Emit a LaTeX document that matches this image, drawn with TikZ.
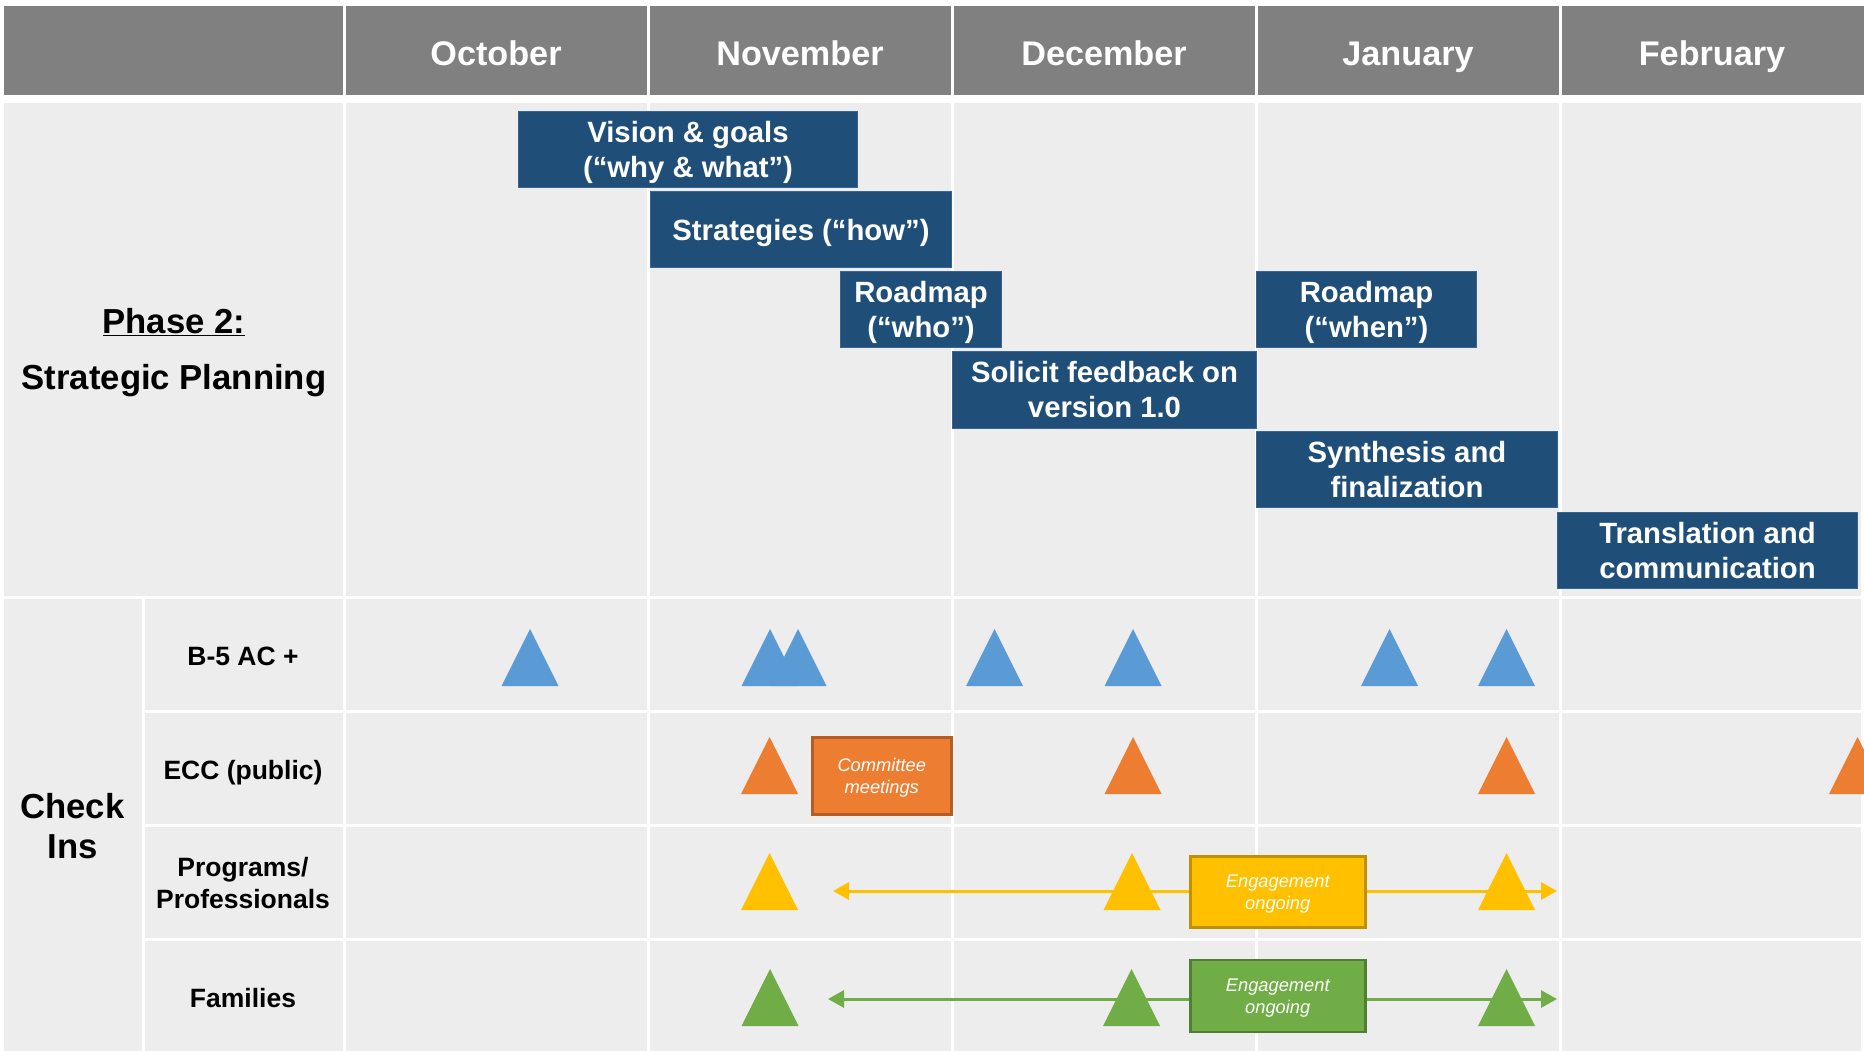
\documentclass[tikz,border=0pt]{standalone}
\usepackage{fontspec}
\setmainfont{Liberation Sans}
\usetikzlibrary{arrows.meta}
\definecolor{hdr}{HTML}{808080}
\definecolor{cell}{HTML}{EDEDED}
\definecolor{navy}{HTML}{1F4E79}
\definecolor{navyline}{HTML}{3A6590}
\definecolor{tblue}{HTML}{5B9BD5}
\definecolor{torange}{HTML}{ED7D31}
\definecolor{torangeline}{HTML}{B45C24}
\definecolor{tyellow}{HTML}{FFC000}
\definecolor{tyellowline}{HTML}{BF9000}
\definecolor{tgreen}{HTML}{70AD47}
\definecolor{tgreenline}{HTML}{507E32}
\newcommand{\mytri}[3]{\fill[#1] ({#2-28.5},{#3+57}) -- (#2,#3) -- ({#2+28.5},{#3+57}) -- cycle;}
\newcommand{\nodp}[1]{\raisebox{0pt}[\height][0pt]{#1}}
\begin{document}
\begin{tikzpicture}[x=1pt,y=-1pt,
  month/.style={text=white,font=\fontsize{34.2}{40}\selectfont\bfseries,anchor=base,inner sep=0pt},
  task/.style={fill=navy,draw=navyline,line width=1pt,anchor=north west,inner sep=0pt,text=white,align=center,font=\fontsize{29.3}{35}\selectfont\bfseries},
  rowlab/.style={font=\fontsize{26.5}{32}\selectfont\bfseries,align=center,inner sep=0pt},
  big/.style={font=\fontsize{34.7}{40}\selectfont\bfseries,align=center,inner sep=0pt},
  note/.style={anchor=north west,inner sep=0pt,line width=2.5pt,text=white,align=center,font=\fontsize{18.3}{22}\selectfont\itshape},
  sep/.style={white,line width=3pt},
  yconn/.style={tyellow,line width=3pt,-{Triangle[length=16pt,width=17pt]}},
  gconn/.style={tgreen,line width=3pt,-{Triangle[length=16pt,width=17pt]}}
]
\useasboundingbox (0,0) rectangle (1864,1050);
\fill[white] (0,0) rectangle (1864,1050);
\clip (0,0) rectangle (1864,1050);
% header
\fill[hdr] (4,6) rectangle (1864,95);
\foreach \x in {344,648,952,1256,1560} \draw[sep] (\x,4) -- (\x,97);
% body
\fill[cell] (4,103) rectangle (1861,1052);
\foreach \x in {344,648,952,1256,1560} \draw[sep] (\x,101) -- (\x,1052);
\draw[sep] (2,597.5) -- (1864,597.5);
\draw[sep] (143,597.5) -- (143,1052);
\foreach \y in {711.5,825.5,939.5} \draw[sep] (143,\y) -- (1864,\y);
% month labels
\node[month] (oct) at (496,65) {October};
\node[month] (nov) at (800,65) {November};
\node[month] (dec) at (1104,65) {December};
\node[month] (jan) at (1408,65) {January};
\node[month] (feb) at (1712,65) {February};
% phase labels
\node[big,anchor=base] (ph) at (174,333) {\underline{Phase 2:}};
\node[big,anchor=base] (sp) at (174,389) {Strategic Planning};
\node[big] (ci) at (72.5,826) {Check\\Ins};
\node[rowlab,anchor=base] (r1) at (243,665) {B-5 AC +};
\node[rowlab,anchor=base] (r2) at (243,779) {ECC (public)};
\node[rowlab] (r3) at (243,883) {Programs/\\Professionals};
\node[rowlab,anchor=base] (r4) at (243,1007) {Families};
% tasks
\node[task,minimum width=339pt,minimum height=76pt] (t1) at (518,111) {Vision \& goals\\\nodp{(“why \& what”)}};
\node[task,minimum width=301pt,minimum height=76pt] (t2) at (650,191) {\nodp{Strategies (“how”)}};
\node[task,minimum width=161pt,minimum height=76pt] (t3) at (840,271) {Roadmap\\\nodp{(“who”)}};
\node[task,minimum width=304pt,minimum height=77pt] (t4) at (952,351) {Solicit feedback on\\version 1.0};
\node[task,minimum width=220pt,minimum height=76pt] (t5) at (1256,271) {Roadmap\\\nodp{(“when”)}};
\node[task,minimum width=301pt,minimum height=76pt] (t6) at (1256,431) {Synthesis and\\finalization};
\node[task,minimum width=300pt,minimum height=76pt] (t7) at (1557,512) {Translation and\\communication};
% connectors
\node[note,fill=tyellow,draw=tyellowline,minimum width=175pt,minimum height=71pt] (ybox) at (1189,855) {Engagement\\\nodp{ongoing}};
\node[note,fill=tgreen,draw=tgreenline,minimum width=175pt,minimum height=72pt] (gbox) at (1189,958.5) {Engagement\\\nodp{ongoing}};
\coordinate (yl) at (833,891);
\coordinate (yr) at (1557,891);
\coordinate (gl) at (828,999);
\coordinate (gr) at (1557,999);
\draw[yconn] (ybox.west |- yl) -- (yl);
\draw[yconn] (ybox.east |- yr) -- (yr);
\draw[gconn] (gbox.west |- gl) -- (gl);
\draw[gconn] (gbox.east |- gr) -- (gr);
% triangles
\foreach \x in {530,770,798,994.5,1133,1389.5,1506.5} {\mytri{tblue}{\x}{629}}
\foreach \x in {769.5,1133,1506.5,1857.5} {\mytri{torange}{\x}{737}}
\foreach \x in {769.5,1132,1506.5} {\mytri{tyellow}{\x}{853}}
\foreach \x in {770,1131.5,1506.5} {\mytri{tgreen}{\x}{969}}
\node[note,fill=torange,draw=torangeline,minimum width=139pt,minimum height=77pt] (cm) at (811,736) {Committee\\\nodp{meetings}};
\end{tikzpicture}
\end{document}
